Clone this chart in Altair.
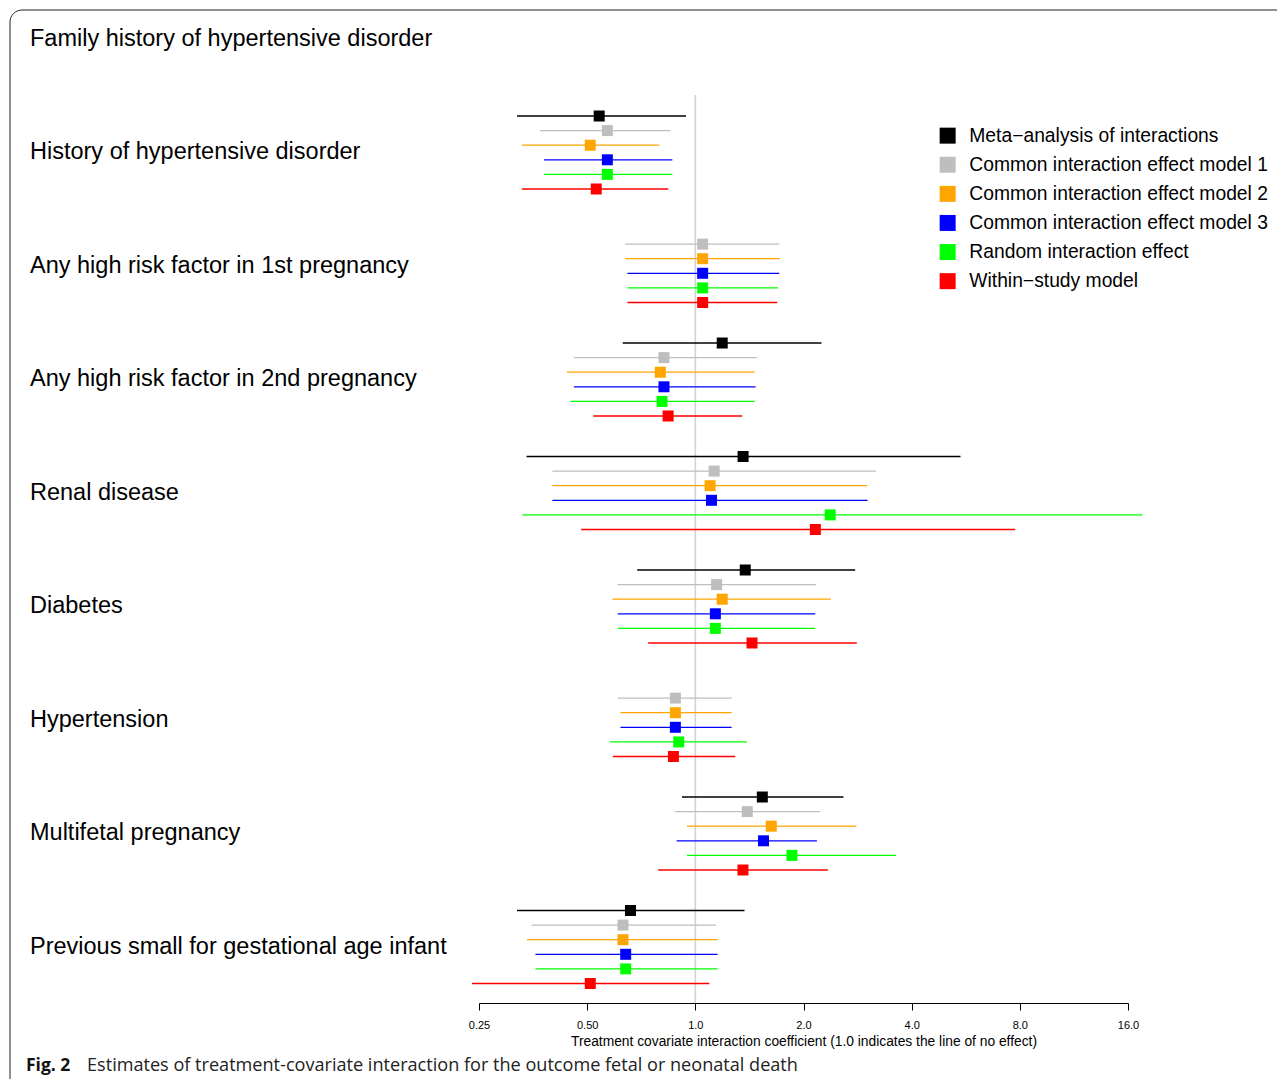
import altair as alt
import pandas as pd

covariates = [
    "Family history of hypertensive disorder",
    "History of hypertensive disorder",
    "Any high risk factor in 1st pregnancy",
    "Any high risk factor in 2nd pregnancy",
    "Renal disease",
    "Diabetes",
    "Hypertension",
    "Multifetal pregnancy",
    "Previous small for gestational age infant",
]

series_names = [
    "Meta\u2212analysis of interactions",
    "Common interaction effect model 1",
    "Common interaction effect model 2",
    "Common interaction effect model 3",
    "Random interaction effect",
    "Within\u2212study model",
]
series_colors = ["#000000", "#BEBEBE", "#FFA500", "#0000FF", "#00FF00", "#FF0000"]

# point estimates per series (one value per covariate, None = not shown)
meta_est = [None, 0.540, None, 1.188, 1.358, 1.377, None, 1.536, 0.660]
meta_lo = [None, 0.319, None, 0.628, 0.339, 0.689, None, 0.918, 0.319]
meta_hi = [None, 0.942, None, 2.244, 5.47, 2.785, None, 2.584, 1.371]

cie1_est = [None, 0.569, 1.048, 0.818, 1.128, 1.146, 0.880, 1.395, 0.629]
cie1_lo = [None, 0.369, 0.638, 0.459, 0.400, 0.608, 0.608, 0.878, 0.350]
cie1_hi = [None, 0.852, 1.712, 1.484, 3.185, 2.166, 1.262, 2.221, 1.142]

cie2_est = [None, 0.510, 1.048, 0.799, 1.099, 1.188, 0.880, 1.627, 0.629]
cie2_lo = [None, 0.329, 0.638, 0.439, 0.400, 0.588, 0.619, 0.948, 0.340]
cie2_hi = [None, 0.794, 1.720, 1.462, 3.007, 2.383, 1.262, 2.808, 1.153]

cie3_est = [None, 0.569, 1.048, 0.818, 1.109, 1.137, 0.880, 1.548, 0.640]
cie3_lo = [None, 0.379, 0.647, 0.459, 0.400, 0.608, 0.619, 0.887, 0.359]
cie3_hi = [None, 0.863, 1.712, 1.471, 3.016, 2.156, 1.262, 2.179, 1.153]

rand_est = [None, 0.569, 1.048, 0.808, 2.373, 1.137, 0.899, 1.857, 0.640]
rand_lo = [None, 0.379, 0.647, 0.449, 0.330, 0.608, 0.579, 0.948, 0.359]
rand_hi = [None, 0.863, 1.700, 1.462, 17.56, 2.156, 1.392, 3.620, 1.153]

within_est = [None, 0.530, 1.048, 0.840, 2.158, 1.438, 0.869, 1.357, 0.510]
within_lo = [None, 0.329, 0.647, 0.520, 0.481, 0.739, 0.589, 0.788, 0.239]
within_hi = [None, 0.841, 1.690, 1.351, 7.770, 2.815, 1.292, 2.338, 1.094]

tick_values = [0.25, 0.5, 1, 2, 4, 8, 16]
tick_labels = ["0.25", "0.50", "1.0", "2.0", "4.0", "8.0", "16.0"]

x_title = "Treatment covariate interaction coefficient (1.0 indicates the line of no effect)"
caption_bold = "Fig. 2"
caption_text = "Estimates of treatment-covariate interaction for the outcome fetal or neonatal death"

ests = [meta_est, cie1_est, cie2_est, cie3_est, rand_est, within_est]
los = [meta_lo, cie1_lo, cie2_lo, cie3_lo, rand_lo, within_lo]
his = [meta_hi, cie1_hi, cie2_hi, cie3_hi, rand_hi, within_hi]

SPACING = 0.1286  # series offset within a covariate row (row units)
rows = []
for j, name in enumerate(series_names):
    for k, cov in enumerate(covariates):
        if ests[j][k] is None:
            continue
        rows.append(dict(cov=cov, series=name, col=series_colors[j],
                         est=ests[j][k], lo=los[j][k], hi=his[j][k],
                         pos=k + (j - 2.5) * SPACING))
df = pd.DataFrame(rows)
labels_df = pd.DataFrame({"cov": covariates, "k": list(range(len(covariates)))})

FONT = "Liberation Sans"

xscale = alt.Scale(type="log", base=2, domain=[0.25, 16], nice=False)
yscale = alt.Scale(domain=[-0.1674, 8.4934], reverse=True, nice=False, zero=False)

label_expr = " : ".join(
    f"datum.value == {v} ? '{l}'" for v, l in zip(tick_values, tick_labels)
) + " : ''"

xaxis = alt.Axis(values=tick_values, labelExpr=label_expr, title=x_title, grid=False,
                 domainColor="black", tickColor="black", tickSize=7, domainWidth=1,
                 tickWidth=1, labelFontSize=11, titleFontSize=13.8, labelPadding=9,
                 titlePadding=4, labelFont=FONT, titleFont=FONT, titleFontWeight="normal",
                 labelColor="black", titleColor="black", labelFlush=False, labelOverlap=False)

one = alt.Data(values=[{"a": 1}])

frame = alt.Chart(one).mark_rect(fill=None, stroke="#222222", strokeWidth=1, cornerRadius=12).encode(
    x=alt.value(-469), x2=alt.value(900), y=alt.value(-10), y2=alt.value(1120)
)

vline = alt.Chart(one).mark_rule(color="#D3D3D3", strokeWidth=1.6).encode(
    x=alt.X(datum=1, scale=xscale, axis=xaxis), y=alt.value(75), y2=alt.value(983)
)

base = alt.Chart(df)
err = base.mark_rule(strokeWidth=1.3).encode(
    x=alt.X("lo:Q", scale=xscale, axis=xaxis),
    x2="hi:Q",
    y=alt.Y("pos:Q", scale=yscale, axis=None),
    color=alt.Color("col:N", scale=None),
)
pts = base.mark_point(shape="square", filled=True, size=121, opacity=1).encode(
    x=alt.X("est:Q", scale=xscale, axis=xaxis),
    y=alt.Y("pos:Q", scale=yscale, axis=None),
    color=alt.Color("series:N", scale=alt.Scale(domain=series_names, range=series_colors),
                    legend=alt.Legend(orient="none", legendX=459, legendY=106, title=None,
                                      symbolType="square", symbolSize=256, symbolStrokeWidth=0,
                                      labelFontSize=19.3, labelFont=FONT, labelColor="black",
                                      rowPadding=9.1, labelOffset=12, padding=0, labelLimit=400)),
)

labels = alt.Chart(labels_df).mark_text(align="left", baseline="middle", fontSize=23.5,
                                        font=FONT, color="black").encode(
    x=alt.value(-449),
    y=alt.Y("k:Q", scale=yscale, axis=None),
    text="cov:N",
)

cap1 = alt.Chart(alt.Data(values=[{"t": caption_bold}])).mark_text(
    align="left", baseline="middle", fontSize=17.5, font="Open Sans", fontWeight="bold", color="#111111"
).encode(x=alt.value(-453), y=alt.value(1046), text="t:N")
cap2 = alt.Chart(alt.Data(values=[{"t": caption_text}])).mark_text(
    align="left", baseline="middle", fontSize=18.1, font="Open Sans", color="#222222"
).encode(x=alt.value(-392), y=alt.value(1046), text="t:N")

chart = alt.layer(frame, vline, err, pts, labels, cap1, cap2).properties(
    width=649, height=983,
    background="white",
    autosize=alt.AutoSizeParams(type="none"),
    padding={"left": 471, "top": 12, "right": 149, "bottom": 76},
).configure_view(stroke=None)

chart.save("out.html", embed_options={"renderer": "svg", "actions": False})
